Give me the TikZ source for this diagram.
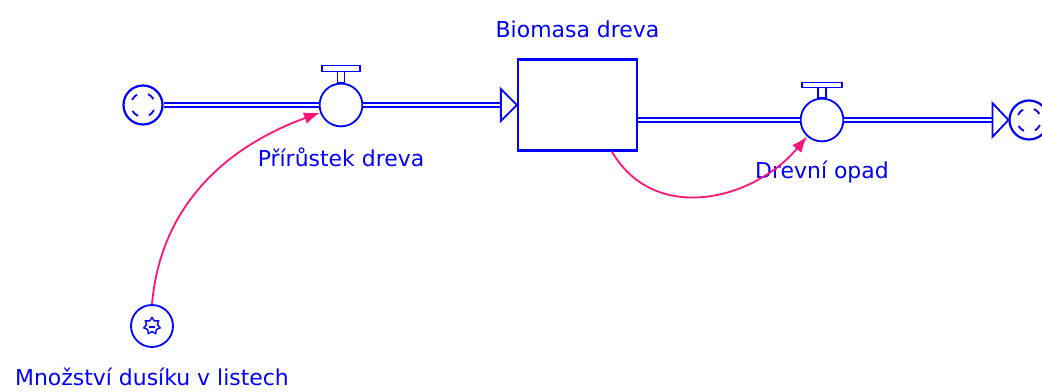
\documentclass[tikz,border=0pt]{standalone}
\usepackage{fontspec}
\setmainfont{DejaVu Sans}
\usepackage{tikz}
\usetikzlibrary{shapes.geometric, positioning, arrows.meta, calc}
\definecolor{flowblue}{RGB}{0,0,255}
\definecolor{linkpink}{RGB}{255,20,120}

\begin{document}
\begin{tikzpicture}[
        x=0.025cm, y=0.025cm,
        every node/.style={font=\fontsize{15.6}{18}\selectfont, text=flowblue},
        lbl/.style={inner sep=0pt},
        stock/.style={draw=flowblue, rectangle, line width=0.055cm, minimum width=2.975cm, minimum height=2.275cm, inner sep=0pt},
        valve/.style={draw=flowblue, circle, fill=white, line width=0.045cm, minimum size=1.07cm, inner sep=0pt},
        cloudy/.style={draw=flowblue, circle, fill=white, line width=0.055cm, minimum size=0.975cm, inner sep=0pt},
        conv/.style={draw=flowblue, circle, fill=white, line width=0.045cm, minimum size=1.05cm, inner sep=0pt},
        pipe/.style={draw=flowblue, line width=0.045cm, double=white, double distance=0.06cm},
        tip/.style={draw=flowblue, fill=white, line width=0.045cm, line join=miter},
        link/.style={draw=linkpink, line width=0.045cm, -{Latex[length=0.4cm, width=0.3cm]}}
    ]
    \useasboundingbox (0,0) rectangle (1042,392);

    \node[cloudy] (srcL) at (143,287) {};
    \node[valve] (grow) at (341,287) {};
    \node[stock] (wood) at (577.5,287) {};
    \node[valve] (shed) at (822,272) {};
    \node[cloudy] (sinkR) at (1029,272) {};
    \node[conv] (nitro) at (152,66) {};

    \node[lbl] (woodlbl) [above=0.5cm of wood] {Biomasa dreva};
    \node[lbl] (growlbl) [below=0.5cm of grow] {Přírůstek dreva};
    \node[lbl] (shedlbl) [below=0.45cm of shed] {Drevní opad};
    \node[lbl] (nitrolbl) [below=0.5cm of nitro] {Množství dusíku v listech};

    % flows
    \draw[pipe] (srcL) -- (grow);
    \draw[pipe, shorten >=0.4cm] (grow) -- (wood);
    \draw[tip] (wood.west) -- ++(-16,16) -- ++(0,-32) -- cycle;
    \draw[pipe] (wood.east |- shed) -- (shed);
    \draw[pipe, shorten >=0.4cm] (shed) -- (sinkR);
    \draw[tip] (sinkR.west) -- ++(-16,17) -- ++(0,-34) -- cycle;

    % valve handles
    \draw[flowblue, line width=0.04cm, fill=white] ($(grow.north)+(-3.5,0)$) rectangle ($(grow.north)+(3.5,11)$);
    \draw[flowblue, line width=0.04cm, fill=white] ($(grow.north)+(-19,11)$) rectangle ($(grow.north)+(19,17)$);
    \draw[flowblue, line width=0.04cm, fill=white] ($(shed.north)+(-4,0)$) rectangle ($(shed.north)+(4,10)$);
    \draw[flowblue, line width=0.04cm, fill=white] ($(shed.north)+(-20,10)$) rectangle ($(shed.north)+(20,15)$);

    % cloud marks
    \foreach \a in {30,120,210,300} {
        \draw[flowblue, line width=0.045cm] ($(srcL)+(\a:12)$) arc[start angle=\a, end angle=\a+35, radius=12];
        \draw[flowblue, line width=0.045cm] ($(sinkR)+(\a:12)$) arc[start angle=\a, end angle=\a+35, radius=12];
    }

    % converter mark
    \node[draw=flowblue, star, star points=7, star point ratio=1.5, minimum size=0.42cm, inner sep=0pt, line width=0.035cm] (nitrostar) at (nitro) {};
    \draw[flowblue, line width=0.04cm] ($(nitro)+(-3,-1)$) -- ($(nitro)+(3,-1)$);

    % connectors
    \draw[link] (nitro.north) to[out=85, in=200] (grow.200);
    \draw[link] ([xshift=0.86cm]wood.south) to[out=-60, in=230, looseness=1.1] (shed.228);

\end{tikzpicture}
\end{document}
